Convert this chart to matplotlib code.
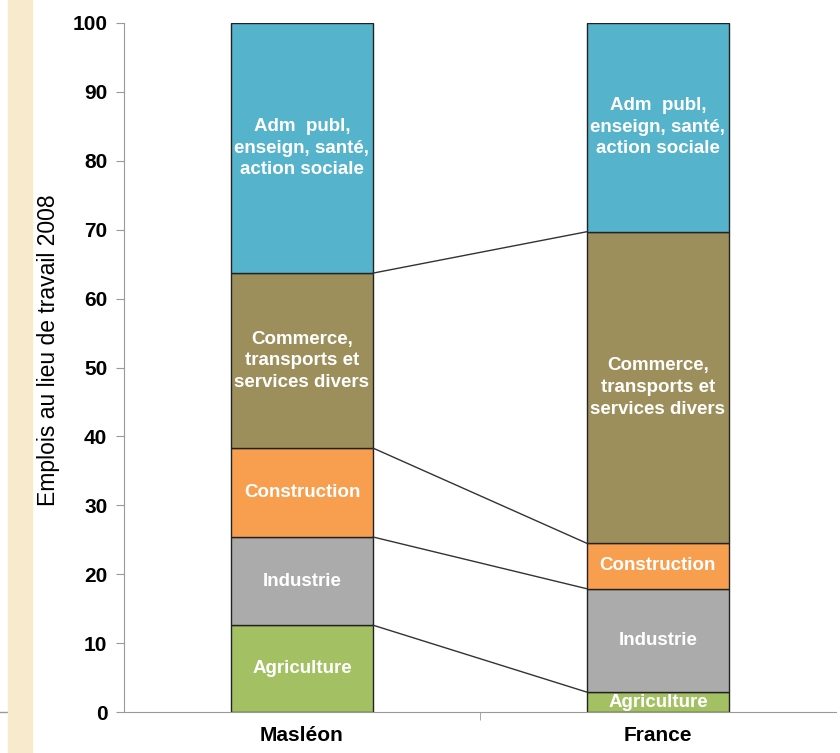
import numpy as np
import matplotlib.pyplot as plt
from matplotlib.lines import Line2D
from matplotlib.patches import Rectangle

plt.rcParams['font.family'] = ['Liberation Sans', 'DejaVu Sans']

# Data: share of jobs by sector (%)
territories = ['Masléon', 'France']
sectors = ['Agriculture', 'Industrie', 'Construction',
           'Commerce,\ntransports et\nservices divers',
           'Adm  publ,\nenseign, santé,\naction sociale']
agriculture = [12.6, 2.9]
industrie = [12.8, 15.0]
construction = [12.9, 6.6]
commerce = [25.4, 45.2]
adm_publ = [36.3, 30.3]
colors = ['#A3C163', '#ABABAB', '#F89E4F', '#9C8F5B', '#56B3CC']

series = [agriculture, industrie, construction, commerce, adm_publ]

fig = plt.figure(figsize=(8.4, 7.53), dpi=100)
ax = fig.add_axes([0.1476, 0.0544, 0.8474, 0.9151])

x = np.arange(len(territories))
width = 0.4
bottom = np.zeros(len(territories))
for vals, col, name in zip(series, colors, sectors):
    vals = np.array(vals)
    ax.bar(x, vals, width, bottom=bottom, color=col, edgecolor='#222222', linewidth=1)
    for xi, b, v in zip(x, bottom, vals):
        ax.text(xi, b + v / 2, name, ha='center', va='center', color='white',
                fontsize=13.5, fontweight='bold', linespacing=1.35)
    bottom = bottom + vals
    # connecting lines between the tops of each segment
    if name != sectors[-1]:
        ax.plot([x[0] + width / 2, x[1] - width / 2], [bottom[0], bottom[1]],
                color='#333333', linewidth=1)

ax.set_xlim(-0.5, 1.5)
ax.set_ylim(0, 100)
ax.set_yticks(range(0, 101, 10))
ax.set_xticks(x)
ax.set_xticklabels(territories, fontsize=15, fontweight='bold')
ax.set_xticks([0.5], minor=True)
ax.tick_params(axis='x', which='major', length=0, pad=10)
ax.tick_params(axis='x', which='minor', length=6, color='#999999')
ax.tick_params(axis='y', length=6, color='#999999', pad=6)
for lab in ax.get_yticklabels():
    lab.set_fontweight('bold')
    lab.set_fontsize(15)
ax.set_ylabel('Emplois au lieu de travail 2008', fontsize=16.5, va='center')
ax.yaxis.set_label_coords(-0.106, 0.525)

for s in ['top', 'right']:
    ax.spines[s].set_visible(False)
for s in ['left', 'bottom']:
    ax.spines[s].set_color('#999999')

# beige strip on the left edge and small rule
fig.add_artist(Line2D([0, 0.03], [0.0544, 0.0544], color='#999999', linewidth=1))
fig.add_artist(Rectangle((0.009, 0), 0.029, 1, color='#F7EACD', zorder=2))

fig.savefig('out.png', dpi=100)
